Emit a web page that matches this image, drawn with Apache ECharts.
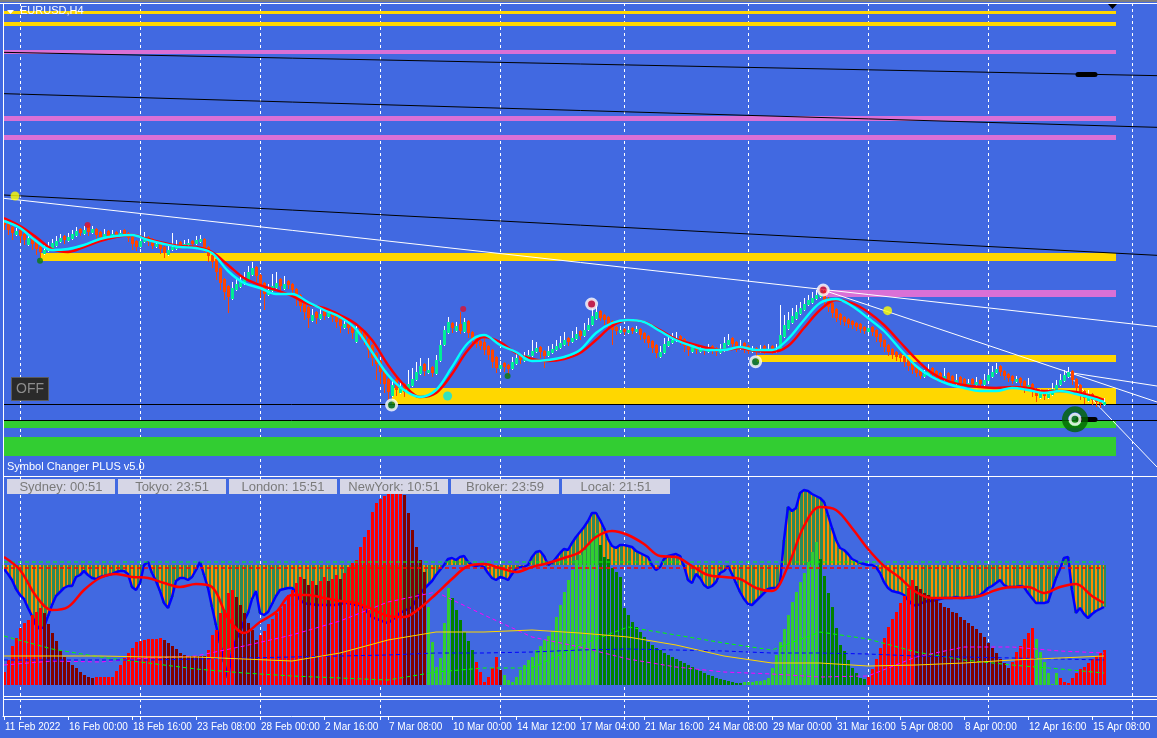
<!DOCTYPE html>
<html><head><meta charset="utf-8">
<script src="https://cdn.jsdelivr.net/npm/echarts@6/dist/echarts.min.js"></script>
<style>html,body{margin:0;padding:0;background:#4169E1;overflow:hidden}#c{width:1157px;height:738px}</style>
</head><body><div id="c"></div>
<script>
// ---------------- DATA ----------------
const symbolTitle = 'EURUSD,H4';
const timeLabels = ['11 Feb 2022','16 Feb 00:00','18 Feb 16:00','23 Feb 08:00','28 Feb 00:00','2 Mar 16:00','7 Mar 08:00','10 Mar 00:00','14 Mar 12:00','17 Mar 04:00','21 Mar 16:00','24 Mar 08:00','29 Mar 00:00','31 Mar 16:00','5 Apr 08:00','8 Apr 00:00','12 Apr 16:00','15 Apr 08:00'];
const timeLabelBars = [0,16,32,48,64,80,96,112,128,144,160,176,192,208,224,240,256,272];
const gridBars = [4,34,64,94,124,155,186,216,246,282];
const clockLabels = ['Sydney: 00:51','Tokyo: 23:51','London: 15:51','NewYork: 10:51','Broker: 23:59','Local: 21:51'];

// candles (price in points, 1 pt = 0.0001)
const openPts = [
11423,11411,11399,11375,11390,11378,11345,11369,11354,11339,
11318,11327,11336,11342,11354,11372,11357,11363,11372,11393,
11378,11405,11381,11393,11384,11366,11387,11372,11384,11375,
11390,11381,11369,11357,11339,11354,11369,11363,11339,11351,
11339,11315,11330,11333,11354,11342,11345,11357,11348,11354,
11363,11339,11315,11303,11276,11243,11222,11183,11210,11219,
11228,11240,11255,11279,11255,11231,11195,11207,11216,11243,
11213,11237,11228,11213,11195,11171,11159,11117,11144,11123,
11147,11129,11144,11135,11123,11096,11111,11105,11054,11093,
11087,11063,11045,11021,10997,10973,10943,10892,10943,10901,
10928,10901,10922,10940,10958,10988,10961,10979,10958,10997,
11045,11081,11111,11087,11108,11084,11117,11084,11066,11057,
11054,11042,11030,11009,10973,10991,10985,10973,10988,11015,
10997,11003,11012,11024,11039,11027,11012,11021,11030,11036,
11045,11066,11054,11063,11087,11072,11090,11105,11123,11147,
11135,11129,11117,11099,11081,11093,11081,11096,11084,11093,
11081,11072,11057,11045,11009,11021,11042,11051,11057,11072,
11063,11051,11024,11045,11024,11039,11024,11042,11036,11021,
11027,11045,11066,11054,11033,11051,11042,11024,11036,11024,
11042,11024,11042,11024,11030,11069,11093,11111,11123,11138,
11150,11165,11171,11183,11189,11207,11186,11171,11153,11138,
11129,11123,11117,11111,11108,11099,11084,11099,11090,11078,
11060,11045,11033,11024,11018,11012,11003,10991,10979,10970,
10949,10955,10976,10967,10961,10940,10961,10952,10928,10949,
10943,10922,10943,10925,10940,10925,10937,10949,10961,10982,
10967,10958,10952,10934,10946,10937,10913,10928,10913,10886,
10907,10886,10895,10910,10925,10937,10949,10967,10943,10925,
10907,10877,10898,10889,10883,10865];
const closePts = [
11405,11390,11381,11387,11372,11360,11366,11348,11333,11324,
11330,11342,11351,11357,11366,11360,11369,11378,11387,11381,
11390,11384,11393,11375,11369,11378,11372,11378,11375,11381,
11378,11366,11348,11339,11357,11366,11354,11342,11348,11333,
11321,11330,11339,11345,11342,11348,11351,11348,11360,11363,
11336,11312,11294,11264,11231,11204,11189,11216,11228,11234,
11246,11264,11276,11252,11216,11198,11210,11222,11231,11222,
11228,11225,11210,11186,11162,11144,11126,11135,11126,11138,
11132,11141,11129,11114,11102,11108,11096,11081,11087,11078,
11060,11030,11006,10988,10964,10928,10904,10925,10910,10922,
10904,10928,10943,10964,10982,10967,10970,10961,11000,11045,
11090,11114,11096,11102,11087,11114,11081,11060,11048,11042,
11030,11015,10994,10976,10985,10979,10973,10994,11006,11000,
11009,11015,11027,11036,11024,11012,11027,11033,11042,11051,
11060,11054,11066,11078,11072,11090,11105,11132,11144,11126,
11120,11108,11090,11087,11090,11084,11090,11087,11093,11075,
11063,11051,11036,11021,11024,11048,11057,11060,11063,11057,
11042,11030,11039,11030,11033,11027,11036,11030,11024,11033,
11051,11060,11048,11036,11042,11033,11027,11030,11024,11030,
11027,11030,11027,11030,11075,11105,11120,11132,11144,11156,
11168,11180,11186,11195,11204,11180,11159,11141,11126,11120,
11114,11108,11105,11099,11093,11087,11096,11084,11069,11054,
11039,11024,11015,11009,11006,10994,10982,10970,10961,10952,
10958,10970,10958,10949,10943,10952,10940,10934,10940,10931,
10925,10931,10928,10934,10928,10940,10955,10964,10973,10964,
10952,10946,10937,10943,10931,10919,10925,10907,10892,10901,
10892,10898,10913,10925,10940,10955,10964,10940,10916,10898,
10886,10895,10880,10874,10868,10874];
const highPts = [
11426,11414,11402,11396,11393,11381,11378,11372,11357,11342,
11345,11354,11363,11372,11378,11375,11381,11390,11399,11396,
11402,11408,11402,11396,11387,11393,11390,11390,11387,11390,
11393,11384,11372,11360,11399,11384,11372,11366,11360,11354,
11342,11348,11381,11360,11357,11360,11363,11360,11372,11375,
11366,11342,11318,11306,11279,11246,11225,11234,11246,11258,
11264,11282,11294,11282,11258,11234,11228,11258,11264,11246,
11252,11240,11231,11216,11198,11174,11162,11153,11147,11156,
11150,11153,11147,11138,11126,11123,11114,11108,11102,11096,
11090,11066,11048,11024,11000,10976,10946,10940,10946,10937,
10931,10970,10976,10994,11006,10991,11006,10982,11015,11060,
11102,11129,11114,11114,11144,11126,11120,11087,11069,11060,
11066,11045,11033,11012,10997,10994,10988,11009,11024,11018,
11024,11030,11060,11054,11042,11030,11042,11048,11060,11072,
11084,11069,11087,11099,11090,11111,11126,11156,11162,11150,
11138,11132,11120,11102,11102,11096,11102,11099,11102,11096,
11084,11075,11060,11048,11042,11066,11072,11081,11084,11075,
11066,11054,11051,11048,11045,11042,11048,11045,11039,11048,
11069,11078,11069,11057,11060,11054,11045,11042,11039,11045,
11045,11048,11045,11048,11165,11135,11144,11156,11165,11174,
11186,11195,11204,11210,11216,11210,11189,11174,11156,11141,
11132,11126,11120,11114,11111,11102,11105,11102,11093,11081,
11063,11048,11036,11027,11021,11015,11006,10994,10982,10973,
10970,10988,10979,10970,10964,10976,10964,10955,10958,10952,
10946,10943,10946,10949,10943,10958,10970,10982,10991,10985,
10970,10961,10955,10952,10949,10940,10946,10931,10916,10913,
10910,10913,10931,10940,10958,10970,10979,10970,10946,10928,
10910,10910,10901,10892,10886,10886];
const lowPts = [
11390,11375,11360,11372,11351,11345,11342,11330,11315,11306,
11315,11324,11333,11339,11351,11348,11354,11360,11369,11372,
11375,11372,11378,11363,11360,11363,11366,11369,11366,11372,
11369,11354,11330,11327,11336,11351,11342,11333,11336,11318,
11306,11312,11327,11330,11333,11339,11342,11339,11345,11351,
11324,11294,11276,11240,11210,11180,11141,11180,11207,11216,
11225,11237,11252,11234,11186,11150,11192,11204,11213,11207,
11210,11213,11192,11162,11144,11120,11096,11114,11108,11120,
11120,11126,11114,11096,11081,11093,11078,11063,11051,11060,
11045,11006,10982,10940,10928,10901,10880,10889,10892,10898,
10889,10898,10919,10937,10955,10952,10958,10949,10955,10994,
11042,11078,11081,11084,11078,11081,11066,11045,11036,11030,
11015,11000,10976,10961,10970,10964,10952,10970,10985,10988,
10994,11000,11009,11021,11006,10976,11009,11018,11027,11033,
11042,11042,11051,11060,11060,11069,11087,11102,11120,11117,
11105,11096,11045,11075,11078,11075,11078,11078,11081,11060,
11051,11036,11021,11006,11006,11018,11039,11048,11054,11045,
11024,11012,11021,11018,11021,11015,11021,11018,11012,11018,
11024,11042,11039,11024,11030,11021,11018,11021,11012,11021,
11018,11021,11018,11021,11027,11066,11090,11108,11120,11135,
11147,11162,11168,11180,11186,11165,11144,11126,11114,11105,
11102,11096,11093,11087,11081,11078,11081,11072,11054,11039,
11024,11012,11003,10997,10994,10979,10967,10958,10949,10943,
10946,10952,10946,10937,10931,10937,10928,10922,10925,10919,
10916,10919,10919,10922,10919,10922,10934,10946,10958,10952,
10940,10934,10928,10931,10913,10901,10910,10889,10874,10883,
10880,10883,10892,10907,10922,10934,10946,10925,10898,10880,
10868,10874,10865,10859,10856,10862];

// moving averages sampled every 4 bars
const maBars = [0,4,8,12,16,20,24,28,32,36,40,44,48,52,56,60,64,68,72,76,80,84,88,92,96,100,104,108,112,116,120,124,128,132,136,140,144,148,152,156,160,164,168,172,176,180,184,188,192,196,200,204,208,212,216,220,224,228,232,236,240,244,248,252,256,260,264,268,272,275];
const maFast = [11417,11396,11357,11330,11333,11345,11363,11372,11375,11360,11348,11339,11336,11321,11267,11231,11216,11198,11198,11174,11150,11129,11093,11024,10955,10910,10889,10910,10979,11051,11075,11045,11024,10997,11000,11009,11030,11081,11111,11120,11114,11087,11060,11042,11030,11030,11039,11030,11030,11063,11120,11171,11183,11162,11126,11087,11033,10982,10949,10928,10916,10907,10907,10916,10910,10901,10907,10898,10886,10874];
const maSlow = [11426,11402,11369,11333,11324,11339,11357,11369,11375,11363,11351,11342,11339,11324,11285,11246,11225,11210,11192,11168,11156,11135,11108,11060,10985,10925,10889,10901,10958,11030,11069,11054,11021,11003,10997,11003,11021,11060,11102,11120,11114,11090,11063,11048,11036,11030,11036,11027,11024,11042,11096,11150,11180,11171,11144,11105,11054,11003,10961,10937,10925,10919,10916,10919,10916,10907,10907,10904,10892,10880];

// horizontal rectangles: [fromBar, toBar, priceTop, priceBottom, kind]
const bands = [
  [-0.25,278,12047,12038,'gold'],[-0.25,278,12014,12002,'gold'],
  [-0.25,278,11930,11918,'orchid'],[-0.25,278,11732,11717,'orchid'],[-0.25,278,11675,11660,'orchid'],
  [9,278,11321,11297,'gold'],[204.75,278,11210,11189,'orchid'],[188.25,278,11015,10994,'gold'],
  [97,278,10916,10868,'gold'],[-0.25,278,10817,10796,'lime'],[-0.25,278,10769,10712,'lime']
];
// trend lines: [bar1, price1, bar2, price2, kind]
const trendLines = [
  [0,11923,288.25,11853,'black'],[0,11799,288.25,11698,'black'],[0,11495,288.25,11314,'black'],
  [0,11485,288.25,11100,'white'],[204.75,11210,288.25,10874,'white'],
  [265.5,10964,288.25,10922,'white'],[265.5,10964,288.25,10679,'white'],
  [-0.25,10868,288.25,10868,'black'],[-0.25,10820,288.25,10820,'black']
];
const priceTags = [[268.5,11857,272.75,11857],[268.5,10822,272.75,10822]];
// signal markers: [bar, price, kind]
const dots = [[2.75,11492,'yellow'],[9,11298,'green'],[20.9,11405,'red'],[114.8,11153,'red'],[125.9,10952,'green'],[110.9,10892,'cyan'],[220.9,11148,'yellow']];
const rings = [[96.9,10865,'green'],[146.9,11168,'red'],[187.9,10995,'green'],[204.8,11210,'red']];
const bigRing = [267.75,10822];

// sub window oscillator
const oscBase = 120;
const levels = [123,117];
const oscLine = [
116,111,105,96,90,86,77,69,60,56,58,69,80,89,93,97,99,99,108,110,
114,110,107,106,108,109,110,111,113,114,114,111,98,95,102,120,123,112,104,94,
82,77,88,104,107,107,105,108,115,123,110,97,78,60,42,23,7,33,45,53,
64,72,86,94,72,70,73,81,89,95,96,97,97,93,85,82,81,81,80,80,
80,80,80,80,81,82,82,81,80,80,77,72,68,66,65,63,62,65,68,72,
74,76,78,85,91,96,100,104,110,115,120,126,127,125,128,129,123,120,119,120,
118,112,107,105,108,107,105,111,116,118,118,120,128,133,134,129,120,122,127,132,
136,135,142,148,153,158,164,172,172,165,157,146,139,137,140,140,139,138,134,132,
130,128,120,115,118,126,129,130,131,129,119,105,102,111,107,100,97,99,103,112,
114,119,111,102,93,86,81,80,84,88,92,96,97,97,102,145,178,174,177,192,
195,194,191,189,187,183,170,157,145,137,135,131,126,124,122,121,120,120,118,112,
103,97,94,93,92,90,85,81,79,81,83,84,84,85,86,87,87,87,88,87,
87,88,88,88,90,93,97,99,102,105,100,98,98,98,99,98,92,87,82,82,
82,83,95,107,116,127,128,95,72,77,71,67,71,74,76,78];
const signalLine = [128,115,89,75,78,95,107,111,108,107,102,98,101,98,67,52,63,73,90,90,87,84,82,76,69,68,77,91,106,119,121,117,113,118,122,127,133,148,154,150,141,129,128,119,110,108,106,97,94,119,159,178,175,157,136,119,107,93,87,87,87,89,95,98,98,92,98,101,89,82];
const strength = [
13,25,39,47,57,62,65,70,73,77,
72,61,52,44,35,28,23,20,17,13,10,8,7,
8,8,8,8,8,14,20,27,32,37,43,44,45,46,46,46,47,
45,42,39,36,32,30,29,29,29,29,29,
35,50,55,72,75,92,95,
88,80,72,62,55,45,
50,54,61,66,72,77,81,90,95,102,108,
106,100,104,100,104,108,104,106,110,106,112,118,122,
125,138,148,155,173,182,186,189,191,192,194,196,
190,172,155,138,125,113,
78,43,18,27,62,97,
87,75,65,53,44,35,
23,13,3,8,17,28,
15,
10,5,3,8,15,20,25,28,35,39,45,49,53,68,80,93,105,115,125,130,135,140,145,152,
140,128,126,117,113,108,77,70,63,58,53,48,43,40,37,35,32,30,28,26,24,22,20,18,16,14,12,10,9,7,6,5,4,3,2,2,
3,3,3,4,4,5,7,17,30,43,56,70,83,93,103,112,123,133,143,
126,109,92,78,57,40,34,25,17,12,7,6,
8,16,26,37,47,58,66,73,82,89,97,105,
99,96,92,90,87,85,82,78,77,73,72,68,65,62,59,56,52,48,42,37,32,26,22,17,
23,33,39,46,52,57,
46,33,23,12,1,12,
7,3,2,7,12,16,18,22,26,29,32,35];
// run-length colour classes of the strength histogram (r bear up, d bear down, g bull up, k bull down)
const strengthRuns = [['r',10],['d',13],['r',17],['d',11],['r',7],['d',6],['r',11],['d',2],['r',1],['d',1],['r',2],['d',1],['r',2],['d',1],['r',3],['r',12],['d',6],['g',6],['k',6],['r',6],['d',1],['g',24],['k',36],['g',19],['k',12],['r',12],['d',24],['r',6],['g',6],['r',12]];
const thinBars = [0,12,24,36,48,60,72,84,96,108,120,132,144,156,168,180,192,204,216,228,240,252,264,275];
const greenAvg = [49,36,28,22,16,12,9,7,5,13,17,17,40,58,50,42,35,53,46,33,25,20,16,12];
const magentaAvg = [20,24,23,27,29,39,50,64,83,93,70,48,38,26,18,13,11,8,9,28,38,38,34,32];
const blueAvg = [25,25,25,25,26,27,28,29,30,32,32,33,35,36,35,34,32,32,31,29,28,27,26,25];
const yellowAvg = [29,29,29,28,28,26,24,32,45,53,53,55,52,48,40,29,22,22,19,20,22,25,27,29];

// ---------------- STYLE ----------------
const BG = '#4169E1', BULL = '#00EE96', BEAR = '#FF4500';
const bandColor = {gold:'#FFD700', orchid:'#DA70D6', lime:'#32CD32'};
const lineColor = {black:'#000000', white:'#FFFFFF'};
const dotStyle = {yellow:['#FFFF00',9], green:['#0B7A0B',6], red:['#E0102E',6], cyan:['#00E5EE',9]};
const ringColor = {green:'#0B7A0B', red:'#E0102E'};
const histColor = {r:'#FF0000', d:'#800000', g:'#32CD32', k:'#008000'};
const FONT = '"Liberation Sans", Arial, sans-serif';

// ---------------- BUILD ----------------
const nBars = closePts.length;
const candleData = closePts.map((c,i)=>[i, openPts[i], c, lowPts[i], highPts[i]]);
const strengthClass = [];
strengthRuns.forEach(([k,n])=>{for(let j=0;j<n;j++) strengthClass.push(k);});
const labelMap = {}; timeLabelBars.forEach((b,k)=>labelMap[b]=timeLabels[k]);

const chart = echarts.init(document.getElementById('c'), null, {renderer:'canvas', width:1157, height:738});

function xAx(gi, extra){ return Object.assign({type:'value', gridIndex:gi, min:-0.25, max:288.25, show:false, splitLine:{show:false}}, extra||{}); }

function gridRender(params, api){
  const x = Math.round(api.coord([api.value(0), 0])[0]) + 0.5;
  const cs = params.coordSys;
  return {type:'line', shape:{x1:x, y1:cs.y, x2:x, y2:cs.y+cs.height}, style:{stroke:'#FFFFFF', lineWidth:1, lineDash:[3,3]}};
}
function gridSeries(gi){
  return {type:'custom', xAxisIndex:gi, yAxisIndex:gi, data:gridBars.map(b=>[b]), renderItem:gridRender, silent:true, clip:false, z:1};
}

const option = {
  backgroundColor: BG,
  animation: false,
  grid: [
    {left:3, top:3, width:1154, height:473},
    {left:3, top:477, width:1154, height:220},
    {left:3, top:699, width:1154, height:17}
  ],
  xAxis: [
    xAx(0), xAx(1),
    xAx(2, {show:true,
      axisLine:{show:true, onZero:false, lineStyle:{color:'#FFFFFF', width:1}},
      axisTick:{show:true, customValues: timeLabelBars.concat(gridBars), length:4, inside:false, lineStyle:{color:'#FFFFFF'}},
      axisLabel:{show:true, customValues: timeLabelBars, formatter:(v)=>labelMap[Math.round(v)]||'', color:'#FFFFFF', fontSize:10, fontFamily:FONT, align:'left', margin:6, padding:[0,0,0,1]}
    })
  ],
  yAxis: [
    {type:'value', gridIndex:0, min:10652, max:12071, show:false, splitLine:{show:false}},
    {type:'value', gridIndex:1, min:-12, max:208, show:false, splitLine:{show:false}},
    {type:'value', gridIndex:2, min:0, max:1, show:false, splitLine:{show:false}}
  ],
  series: [
    gridSeries(0), gridSeries(1), gridSeries(2),
    // rectangles
    {type:'custom', xAxisIndex:0, yAxisIndex:0, clip:false, silent:true, z:2,
      data: bands.map(b=>[b[0],b[1],b[2],b[3]]),
      encode:{x:[0,1], y:[2,3]},
      renderItem:(params, api)=>{
        const a = api.coord([api.value(0), api.value(2)]), b = api.coord([api.value(1), api.value(3)]);
        const x1=Math.round(a[0]), x2=Math.round(b[0]), y1=Math.round(a[1]), y2=Math.round(b[1]);
        return {type:'rect', shape:{x:x1, y:y1, width:x2-x1, height:y2-y1}, style:{fill: bandColor[bands[params.dataIndex][4]]}};
      }},
    // trend lines
    {type:'lines', coordinateSystem:'cartesian2d', xAxisIndex:0, yAxisIndex:0, silent:true, z:3,
      data: trendLines.map(t=>({coords:[[t[0],t[1]],[t[2],t[3]]], lineStyle:{color:lineColor[t[4]], width:1, opacity:1}})),
      lineStyle:{opacity:1, width:1}},
    // candles
    {type:'custom', xAxisIndex:0, yAxisIndex:0, clip:false, silent:true, z:4,
      data: candleData, encode:{x:0, y:[1,2,3,4]},
      renderItem:(params, api)=>{
        const i=api.value(0), o=api.value(1), c=api.value(2), lo=api.value(3), hi=api.value(4);
        const pO=api.coord([i,o]), pC=api.coord([i,c]), pL=api.coord([i,lo]), pH=api.coord([i,hi]);
        const cx=Math.round(pO[0]); const bull = c>o;
        const top=Math.round(Math.min(pO[1],pC[1])), bot=Math.round(Math.max(pO[1],pC[1]));
        const yh=Math.round(pH[1]), yl=Math.round(pL[1]);
        return {type:'group', children:[
          {type:'rect', shape:{x:cx, y:yh, width:1, height:Math.max(1,yl-yh)}, style:{fill: bull?'#FFFFFF':BEAR}},
          {type:'rect', shape:{x:cx-1, y:top, width:3, height:Math.max(2,bot-top)}, style:{fill: bull?BULL:BEAR}}
        ]};
      }},
    // moving averages
    {type:'line', xAxisIndex:0, yAxisIndex:0, data: maBars.map((b,k)=>[b,maSlow[k]]), symbol:'none', smooth:0.35, lineStyle:{color:'#FF0000', width:2.4}, z:5, silent:true},
    {type:'line', xAxisIndex:0, yAxisIndex:0, data: maBars.map((b,k)=>[b,maFast[k]]), symbol:'none', smooth:0.35, lineStyle:{color:'#00FFFF', width:2.4}, z:5, silent:true},
    // price tags
    {type:'lines', coordinateSystem:'cartesian2d', xAxisIndex:0, yAxisIndex:0, silent:true, z:6,
      data: priceTags.map(t=>({coords:[[t[0],t[1]],[t[2],t[3]]]})), lineStyle:{color:'#000000', width:5, opacity:1, cap:'round'}},
    // signal dots
    {type:'scatter', xAxisIndex:0, yAxisIndex:0, silent:true, z:7,
      data: dots.map(d=>({value:[d[0],d[1]], symbolSize:dotStyle[d[2]][1], itemStyle:{color:dotStyle[d[2]][0]}}))},
    {type:'scatter', xAxisIndex:0, yAxisIndex:0, silent:true, z:7,
      data: [{value:bigRing, symbolSize:20, itemStyle:{color:'rgba(0,0,0,0)', borderColor:'#006400', borderWidth:6}}]},
    {type:'scatter', xAxisIndex:0, yAxisIndex:0, silent:true, z:8,
      data: rings.map(r=>({value:[r[0],r[1]], symbolSize:10, itemStyle:{color:ringColor[r[2]], borderColor:'#FFFFFF', borderWidth:3}}))
        .concat([{value:bigRing, symbolSize:10, itemStyle:{color:ringColor.green, borderColor:'#FFFFFF', borderWidth:3}}])},

    // ---- sub window ----
    {type:'custom', xAxisIndex:1, yAxisIndex:1, clip:false, silent:true, z:2,
      data: oscLine.map((v,i)=>[i,v]),
      renderItem:(params, api)=>{
        const i=api.value(0), v=api.value(1);
        const p0=api.coord([i,oscBase]), p1=api.coord([i,v]);
        const cx=Math.round(p0[0]);
        const y0=Math.round(Math.min(p0[1],p1[1])), y1=Math.round(Math.max(p0[1],p1[1]));
        const h=Math.max(1,y1-y0);
        const bear = candleData[i][2] < candleData[i][1];
        return {type:'group', children:[
          {type:'rect', shape:{x:cx-2, y:y0, width:4, height:h}, style:{fill:'#2E8B57'}},
          {type:'rect', shape:{x:cx-1, y:y0, width:bear?2:1, height:h}, style:{fill:'#FF8C00'}}
        ]};
      }},
    {type:'line', xAxisIndex:1, yAxisIndex:1, data: oscLine.map((v,i)=>[i,v]), symbol:'none', lineStyle:{color:'#0000FF', width:2.5}, z:3, silent:true},
    {type:'custom', xAxisIndex:1, yAxisIndex:1, clip:false, silent:true, z:4,
      data: strength.map((v,i)=>[i,v]),
      renderItem:(params, api)=>{
        const i=api.value(0), v=api.value(1);
        const p0=api.coord([i,0]), p1=api.coord([i,v]);
        const cx=Math.round(p0[0]);
        const y0=Math.round(p1[1]), y1=Math.round(p0[1]);
        return {type:'rect', shape:{x:cx-1, y:y0, width:3, height:Math.max(1,y1-y0)}, style:{fill:histColor[strengthClass[i]]}};
      }},
    {type:'line', xAxisIndex:1, yAxisIndex:1, data: thinBars.map((b,k)=>[b,greenAvg[k]]), symbol:'none', lineStyle:{color:'#00FF00', width:1, type:[4,3]}, z:5, silent:true},
    {type:'line', xAxisIndex:1, yAxisIndex:1, data: thinBars.map((b,k)=>[b,magentaAvg[k]]), symbol:'none', lineStyle:{color:'#FF00FF', width:1, type:[4,3]}, z:5, silent:true},
    {type:'line', xAxisIndex:1, yAxisIndex:1, data: thinBars.map((b,k)=>[b,blueAvg[k]]), symbol:'none', lineStyle:{color:'#0000FF', width:1, type:[4,3]}, z:5, silent:true},
    {type:'line', xAxisIndex:1, yAxisIndex:1, data: thinBars.map((b,k)=>[b,yellowAvg[k]]), symbol:'none', lineStyle:{color:'#FFD700', width:1}, z:5, silent:true},
    {type:'line', xAxisIndex:1, yAxisIndex:1, data: [[0,levels[0]],[nBars-1,levels[0]]], symbol:'none', lineStyle:{color:'#00FF00', width:1, type:[4,3]}, z:5, silent:true},
    {type:'line', xAxisIndex:1, yAxisIndex:1, data: [[0,levels[1]],[nBars-1,levels[1]]], symbol:'none', lineStyle:{color:'#FF0000', width:1.5, type:[4,3]}, z:5, silent:true},
    {type:'line', xAxisIndex:1, yAxisIndex:1, data: maBars.map((b,k)=>[b,signalLine[k]]), symbol:'none', smooth:0.35, lineStyle:{color:'#FF0000', width:2.5}, z:6, silent:true}
  ],
  graphic: {elements: [
    {type:'rect', z:100, shape:{x:0,y:0,width:1157,height:2}, style:{fill:'#808080'}},
    {type:'rect', z:100, shape:{x:0,y:3,width:1157,height:1}, style:{fill:'#FFFFFF'}},
    {type:'rect', z:100, shape:{x:3,y:3,width:1,height:713}, style:{fill:'#FFFFFF'}},
    {type:'rect', z:100, shape:{x:3,y:476,width:1154,height:1}, style:{fill:'#FFFFFF'}},
    {type:'rect', z:100, shape:{x:3,y:696,width:1154,height:1}, style:{fill:'#FFFFFF'}},
    {type:'rect', z:100, shape:{x:3,y:699,width:1154,height:1}, style:{fill:'#FFFFFF'}},
    {type:'polygon', z:100, shape:{points:[[7,10],[14,10],[10.5,14]]}, style:{fill:'#FFFFFF'}},
    {type:'text', z:100, style:{text:symbolTitle, x:20, y:11, fill:'#FFFFFF', fontSize:11, fontFamily:FONT, verticalAlign:'middle'}},
    {type:'polygon', z:100, shape:{points:[[1108,4],[1117,4],[1112.5,9]]}, style:{fill:'#000000'}},
    {type:'text', z:100, style:{text:'Symbol Changer PLUS v5.0', x:7, y:467, fill:'#FFFFFF', fontSize:11, fontFamily:FONT, verticalAlign:'middle'}},
    {type:'rect', z:100, shape:{x:11.5,y:377.5,width:37,height:23}, style:{fill:'#2A2A2A', stroke:'#5A5A5A', lineWidth:1}},
    {type:'text', z:101, style:{text:'OFF', x:30, y:389.5, fill:'#8C8C8C', fontSize:14, fontFamily:FONT, align:'center', verticalAlign:'middle'}}
  ].concat(clockLabels.flatMap((t,k)=>{
    const x = 7 + k*111;
    return [
      {type:'rect', z:100, shape:{x:x, y:479, width:108, height:15}, style:{fill:'#D6D6E6'}},
      {type:'text', z:101, style:{text:t, x:x+54, y:487, fill:'#7A7A7A', fontSize:13, fontFamily:FONT, align:'center', verticalAlign:'middle'}}
    ];
  }))}
};
chart.setOption(option);
</script></body></html>
